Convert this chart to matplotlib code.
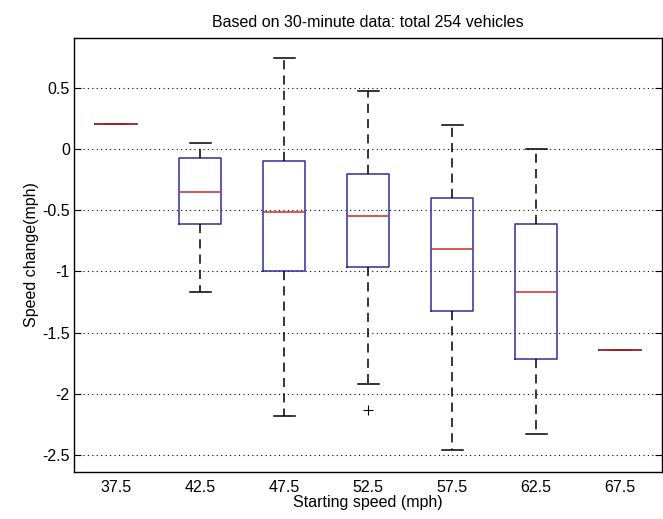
import matplotlib.pyplot as plt

plt.rcParams['font.family'] = ['Liberation Sans', 'DejaVu Sans']

# starting speed bins and the box statistics
speeds = ['37.5', '42.5', '47.5', '52.5', '57.5', '62.5', '67.5']
medians = [0.205, -0.35, -0.51, -0.55, -0.82, -1.17, -1.64]
q1 = [0.205, -0.615, -0.995, -0.96, -1.325, -1.715, -1.64]
q3 = [0.205, -0.07, -0.10, -0.205, -0.395, -0.615, -1.64]
whislo = [0.205, -1.17, -2.18, -1.92, -2.46, -2.33, -1.64]
whishi = [0.205, 0.055, 0.75, 0.475, 0.20, 0.0, -1.64]
outliers = [[], [], [], [-2.13], [], [], []]

stats = []
for i in range(len(speeds)):
    stats.append({'med': medians[i], 'q1': q1[i], 'q3': q3[i],
                  'whislo': whislo[i], 'whishi': whishi[i],
                  'fliers': outliers[i], 'label': speeds[i]})

fig = plt.figure(figsize=(6.63, 5.19), dpi=100)
ax = fig.add_axes([0.1116, 0.0906, 0.887, 0.8362])

ax.bxp(stats, positions=range(1, 8), widths=0.5, capwidths=0.25,
       boxprops=dict(color='#2e2e9c', linewidth=1.1),
       medianprops=dict(color='#d02828', linewidth=1.1),
       whiskerprops=dict(color='black', linewidth=1.1, linestyle=(0, (6, 4))),
       capprops=dict(color='black', linewidth=1.1),
       flierprops=dict(marker='+', markeredgecolor='black', markersize=7,
                       markeredgewidth=0.8))

ax.set_xlim(0.5, 7.5)
ax.set_ylim(-2.64, 0.91)
ax.set_yticks([-2.5, -2, -1.5, -1, -0.5, 0, 0.5])
ax.set_yticklabels(['-2.5', '-2', '-1.5', '-1', '-0.5', '0', '0.5'])
ax.yaxis.grid(True, linestyle=(0, (1, 3)), color='black', linewidth=0.8)
ax.tick_params(axis='y', direction='in', length=5, right=True, labelsize=11.5, pad=3)
ax.tick_params(axis='x', length=0, labelsize=11.5, pad=6)

ax.set_title('Based on 30-minute data: total 254 vehicles', fontsize=11.5, pad=8)
ax.set_xlabel('Starting speed (mph)', fontsize=11.5, labelpad=0)
ax.set_ylabel('Speed change(mph)', fontsize=11.5, labelpad=2)

for s in ax.spines.values():
    s.set_linewidth(1.0)

fig.savefig('out.png', dpi=100)
